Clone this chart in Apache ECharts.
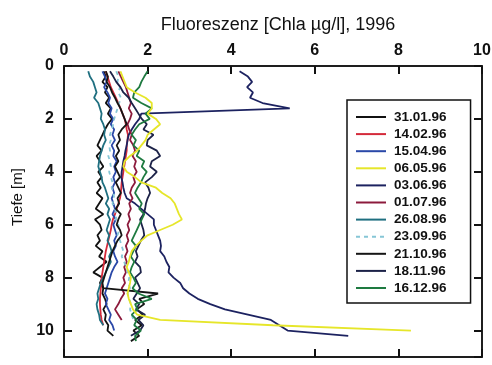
<!DOCTYPE html>
<html>
<head>
<meta charset="utf-8">
<script src="https://cdn.jsdelivr.net/npm/echarts@6/dist/echarts.min.js"></script>
<style>
html,body{margin:0;padding:0;background:#fff;}
#c{width:492px;height:365px;}
</style>
</head>
<body>
<div id="c"></div>
<script>
// depth grid (m): 0.2 ... 10.4
const depth = [0.2,0.4,0.6,0.8,1.0,1.2,1.4,1.6,1.8,2.0,
  2.2,2.4,2.6,2.8,3.0,3.2,3.4,3.6,3.8,4.0,
  4.2,4.4,4.6,4.8,5.0,5.2,5.4,5.6,5.8,6.0,
  6.2,6.4,6.6,6.8,7.0,7.2,7.4,7.6,7.8,8.0,
  8.2,8.4,8.6,8.8,9.0,9.2,9.4,9.6,9.8,10.0,
  10.2,10.4];

const names = ['31.01.96','14.02.96','15.04.96','06.05.96','03.06.96','01.07.96','26.08.96','23.09.96','21.10.96','18.11.96','16.12.96'];
const colors = ['#111111','#d42a3a','#2a48a8','#e6e62a','#1c2260','#8c1a3c','#1f6f80','#86c6d6','#151515','#1c2248','#1e7a40'];

const s_3101 = [0.95,1.00,0.92,1.04,0.98,1.08,1.00,1.12,1.05,1.15,
  1.05,0.98,0.92,0.86,0.80,0.90,0.78,0.86,0.94,0.82,
  0.90,0.80,0.88,0.78,0.92,0.84,0.76,0.94,0.74,0.86,
  0.90,0.80,0.86,0.76,0.92,0.84,1.02,0.86,0.70,0.92,
  0.86,0.94,0.92,0.98,1.02,0.94,1.00,0.98,1.06,1.04,
  1.18,null];
const s_1402 = [1.00,1.04,1.08,1.12,1.18,1.24,1.30,1.35,1.40,1.45,
  1.48,1.50,1.53,1.52,1.50,1.50,1.48,1.46,1.44,1.42,
  1.40,1.38,1.37,1.36,1.34,1.30,1.26,1.22,1.17,1.14,
  1.12,1.09,1.06,1.03,1.00,0.98,0.96,0.94,0.92,0.90,
  0.89,0.88,0.87,0.86,0.86,0.87,0.88,0.90,0.94,null,
  null,null];
const s_1504 = [0.92,0.98,1.02,0.96,1.04,1.10,1.06,1.14,1.10,1.18,
  1.12,1.20,1.16,1.22,1.14,1.20,1.18,1.26,1.20,1.24,
  1.18,1.22,1.16,1.20,1.14,1.18,1.22,1.16,1.24,1.18,
  1.22,1.26,1.20,1.24,1.18,1.22,1.28,1.20,1.14,1.10,
  1.06,1.02,0.98,1.04,1.00,1.06,1.12,1.08,1.16,1.20,
  null,null];
const s_0605 = [1.35,1.40,1.45,1.50,1.70,1.95,2.10,2.10,2.00,2.20,
  2.30,2.15,2.00,1.95,1.85,1.75,1.58,1.45,1.42,1.50,
  1.70,1.85,2.20,2.35,2.55,2.65,2.70,2.75,2.82,2.60,
  2.30,2.00,1.85,1.72,1.62,1.58,1.55,1.50,1.55,1.60,
  1.58,1.55,1.52,1.55,1.60,1.65,1.75,2.30,5.00,8.30,
  null,null];
const s_0306 = [4.20,4.40,4.50,4.38,4.52,4.45,4.75,5.40,1.85,1.80,
  1.70,1.62,1.55,1.52,1.50,1.47,1.45,1.42,1.40,1.38,
  1.37,1.40,1.42,1.45,1.50,1.70,1.85,2.00,2.15,2.15,
  2.20,2.25,2.30,2.32,2.30,2.40,2.45,2.52,2.50,2.62,
  2.78,2.85,3.00,3.20,3.50,3.85,4.40,4.95,5.15,5.35,
  6.80,null];
const s_0107 = [1.30,1.36,1.42,1.48,1.52,1.56,1.60,1.55,1.62,1.58,
  1.52,1.56,1.62,1.58,1.66,1.70,1.64,1.72,1.68,1.74,
  1.66,1.70,1.62,1.58,1.64,1.56,1.60,1.54,1.58,1.52,
  1.56,1.50,1.54,1.48,1.52,1.46,1.50,1.44,1.48,1.42,
  1.46,1.38,1.44,1.36,1.30,1.22,1.30,1.38,null,null,
  null,null];
const s_2608 = [0.58,0.62,0.70,0.74,0.78,0.72,0.82,0.86,0.90,0.88,
  0.94,0.98,0.96,1.00,0.94,0.90,0.86,0.84,0.82,0.86,
  0.90,0.92,0.98,1.02,1.06,1.00,1.08,1.04,1.10,1.06,
  1.02,1.08,1.04,1.10,1.14,1.08,1.12,1.06,1.00,0.94,
  0.88,0.84,0.80,0.82,0.78,0.80,0.84,0.86,0.94,null,
  null,null];
const s_2309 = [1.25,1.30,1.28,1.34,1.30,1.36,1.32,1.28,1.24,1.20,
  1.18,1.14,1.10,1.12,1.08,1.10,1.06,1.10,1.12,1.08,
  1.12,1.16,1.14,1.18,1.20,1.16,1.22,1.26,1.24,1.30,
  1.32,1.28,1.34,1.38,1.42,1.38,1.44,1.48,1.52,1.56,
  1.54,1.58,1.52,1.56,1.60,1.58,1.62,1.66,null,null,
  null,null];
const s_2110 = [1.00,1.05,1.02,1.10,1.15,1.22,1.28,1.35,1.40,1.45,
  1.50,1.38,1.30,1.34,1.26,1.32,1.24,1.30,1.22,1.28,
  1.34,1.24,1.30,1.36,1.28,1.32,1.24,1.36,1.30,1.26,
  1.34,1.38,1.28,1.22,1.16,1.12,1.08,1.04,1.00,0.96,
  0.92,0.94,2.25,1.80,1.92,1.74,1.88,1.70,1.86,1.66,
  1.80,1.60];
const s_1811 = [1.10,1.18,1.25,1.35,1.42,1.55,1.62,1.70,1.78,1.86,
  1.98,1.90,2.14,2.00,1.98,2.22,2.30,2.10,2.06,2.22,
  2.10,1.94,2.02,2.06,2.00,1.96,1.94,1.90,1.82,1.86,
  1.90,1.92,1.84,1.78,1.72,1.76,1.70,1.82,1.84,1.70,
  1.76,1.82,1.74,1.66,1.80,1.72,1.94,1.78,1.90,1.82,
  1.60,null];
const s_1612 = [2.00,1.92,1.85,1.80,1.68,1.65,1.85,2.10,1.95,2.05,
  1.80,1.70,1.62,1.72,1.66,1.80,1.74,1.92,1.86,1.98,
  1.90,1.84,1.76,1.70,1.78,1.86,1.80,1.92,1.86,1.80,
  1.74,1.68,1.62,1.72,1.66,1.60,1.68,1.62,1.58,1.66,
  1.72,1.64,1.78,2.10,1.70,1.76,1.62,1.74,1.68,1.84,
  1.70,1.72];

const values = [s_3101,s_1402,s_1504,s_0605,s_0306,s_0107,s_2608,s_2309,s_2110,s_1811,s_1612];
const xTicks = [0,2,4,6,8,10];
const yTicks = [0,2,4,6,8,10];

const FONT = "'Liberation Sans', Arial, sans-serif";

const series = names.map((n, k) => ({
  name: n,
  type: 'line',
  xAxisIndex: 0,
  yAxisIndex: 0,
  symbol: 'none',
  animation: false,
  data: depth.map((d, i) => [values[k][i], d]).filter(p => p[0] !== null),
  lineStyle: {
    color: colors[k],
    width: 1.8,
    type: n === '23.09.96' ? [4, 4] : 'solid'
  },
  itemStyle: { color: colors[k] },
  z: k === 3 ? 3 : 2
}));

const axisLineStyle = { show: true, onZero: false, lineStyle: { color: '#111', width: 1.5 } };
const tickStyle = { show: true, inside: true, length: 8, lineStyle: { color: '#111', width: 2 } };

const chart = echarts.init(document.getElementById('c'), null, {renderer: 'canvas'});
chart.setOption({
  animation: false,
  backgroundColor: '#ffffff',
  textStyle: { fontFamily: FONT },
  title: {
    text: 'Fluoreszenz [Chla µg/l], 1996',
    left: 273,
    top: 11,
    textAlign: 'center',
    textStyle: { fontFamily: FONT, fontSize: 18, fontWeight: 'normal', color: '#111' }
  },
  graphic: [{
    type: 'text',
    x: 18, y: 197,
    rotation: Math.PI / 2,
    style: { text: 'Tiefe [m]', font: "15px 'Liberation Sans', Arial, sans-serif", fill: '#111',
      align: 'center', verticalAlign: 'middle' }
  }],
  grid: {
    left: 64, top: 66, right: 10, bottom: 8,
    containLabel: false,
    outerBoundsMode: 'none',
    show: true, borderColor: '#111', borderWidth: 1.5, backgroundColor: 'transparent'
  },
  legend: {
    orient: 'vertical',
    left: 347, top: 100,
    padding: [10, 24, 8, 8],
    itemWidth: 30, itemHeight: 14, itemGap: 3.1,
    borderColor: '#111', borderWidth: 1.5, backgroundColor: '#fff',
    data: names,
    itemStyle: { opacity: 0 },
    textStyle: { fontFamily: FONT, fontSize: 13.5, fontWeight: 'bold', color: '#111', padding: [0, 0, 0, 3] }
  },
  xAxis: [{
    type: 'value', position: 'top', min: 0, max: 10, interval: 2,
    axisLine: axisLineStyle,
    axisTick: tickStyle,
    axisLabel: { fontFamily: FONT, fontSize: 16, fontWeight: 'bold', color: '#111', margin: 7,
      formatter: v => xTicks.includes(v) ? String(v) : '' },
    splitLine: { show: false }
  }, {
    type: 'value', position: 'bottom', min: 0, max: 10, interval: 2,
    axisLine: axisLineStyle,
    axisTick: tickStyle,
    axisLabel: { show: false },
    splitLine: { show: false }
  }],
  yAxis: [{
    type: 'value', inverse: true, position: 'left', min: 0, max: 11, interval: 2,
    axisLine: axisLineStyle,
    axisTick: tickStyle,
    axisLabel: { fontFamily: FONT, fontSize: 16, fontWeight: 'bold', color: '#111', margin: 10, showMaxLabel: false,
      formatter: v => yTicks.includes(v) ? String(v) : '' },
    splitLine: { show: false }
  }, {
    type: 'value', inverse: true, position: 'right', min: 0, max: 11, interval: 2,
    axisLine: axisLineStyle,
    axisTick: tickStyle,
    axisLabel: { show: false },
    splitLine: { show: false }
  }],
  series: series
});
</script>
</body>
</html>
